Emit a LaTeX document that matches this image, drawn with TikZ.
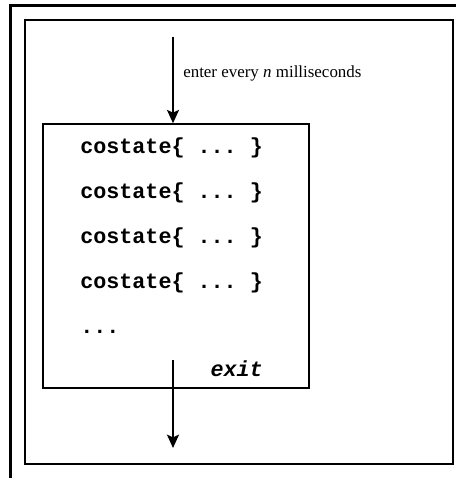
\documentclass[tikz,border=0pt]{standalone}
\usepackage{fontspec}
\setmainfont{Liberation Serif}
\setmonofont{Liberation Mono}
\usetikzlibrary{arrows.meta}
\tikzset{
  framethick/.style={line width=2.6pt},
  frameline/.style={line width=1.1pt},
  boxline/.style={draw, line width=1.1pt, rectangle, inner sep=0pt, minimum width=199.5pt, minimum height=198pt},
  flow/.style={line width=1.5pt, -{Stealth[length=10pt,width=9pt,inset=2pt]}},
  codetext/.style={font=\fontsize{16.3pt}{18pt}\selectfont\ttfamily\bfseries, inner sep=0pt, anchor=base west},
  labeltext/.style={font=\fontsize{12.7pt}{15pt}\selectfont, inner sep=0pt, anchor=base west}
}
\begin{document}
\begin{tikzpicture}[x=0.75pt, y=-0.75pt]
\useasboundingbox (0,0) rectangle (456,478);
% outer thick L-frame
\draw[framethick] (10.5,478) -- (10.5,5.5) -- (456,5.5);
% inner frame
\draw[frameline] (25,20) rectangle (453,464);
% main box
\node[boxline] (box) at (176,256) {};
% top arrow
\coordinate (topstart) at (173,37);
\draw[flow] (topstart) -- (topstart |- box.north);
\node[labeltext] (enter) at (183,78) {enter every \textit{n} milliseconds};
% code lines
\node[codetext] (c1) at (80,153) {costate\{ ... \}};
\node[codetext] (c2) at (80,198) {costate\{ ... \}};
\node[codetext] (c3) at (80,243) {costate\{ ... \}};
\node[codetext] (c4) at (80,288) {costate\{ ... \}};
\node[codetext] (dots) at (80,333) {...};
\node[codetext, anchor=base east, font=\fontsize{16.3pt}{18pt}\selectfont\ttfamily\bfseries\itshape] (exit) at (263,376) {exit};
% bottom arrow
\coordinate (botstart) at (173,360);
\coordinate (botend) at (173,448);
\draw[flow] (botstart) -- (botend);
\end{tikzpicture}
\end{document}
